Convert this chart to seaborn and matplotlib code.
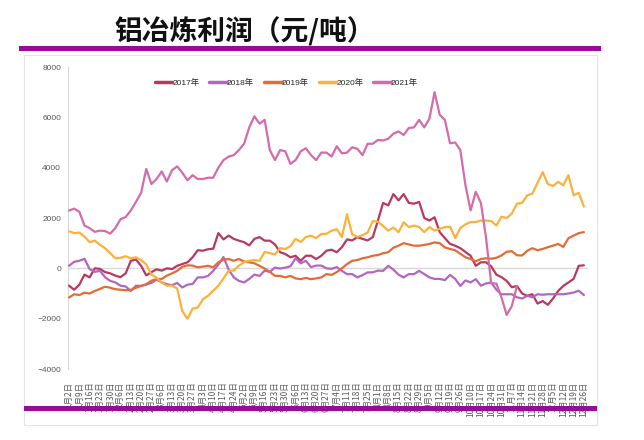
import numpy as np
import pandas as pd
import matplotlib
matplotlib.use("Agg")
import matplotlib.pyplot as plt
import seaborn as sns
from matplotlib.patches import Rectangle

# weekly date labels on the x axis
date_labels = [
    "1月2日", "1月9日", "1月16日", "1月23日", "1月30日", "2月6日", "2月13日", "2月20日",
    "2月27日", "3月6日", "3月13日", "3月20日", "3月27日", "4月3日", "4月10日", "4月17日",
    "4月24日", "5月2日", "5月9日", "5月16日", "5月23日", "5月30日", "6月6日", "6月13日",
    "6月20日", "6月27日", "7月4日", "7月11日", "7月18日", "7月25日", "8月1日", "8月8日",
    "8月15日", "8月22日", "8月29日", "9月5日", "9月12日", "9月19日", "9月26日", "10月10日",
    "10月17日", "10月24日", "10月31日", "11月7日", "11月14日", "11月21日", "11月28日",
    "12月5日", "12月12日", "12月19日", "12月26日",
]

years = ["2017年", "2018年", "2019年", "2020年", "2021年"]
colors = ["#B8385F", "#B266C2", "#E36C36", "#FCB13A", "#D36CA9"]

# profit (yuan/ton), sampled twice a week
profit_2017 = [
    -690, -850, -650, -250, -360, 0, -20, -150, -200, -290, -350, -200, 300, 350, 100, -280,
    -150, -40, -90, 0, -30, 100, 170, 240, 440, 720, 700, 760, 780, 1400, 1150, 1300, 1170,
    1100, 1040, 910, 1170, 1240, 1100, 1100, 950, 640, 570, 440, 500, 300, 500, 500, 370, 500,
    700, 740, 640, 840, 1150, 1110, 1240, 1170, 1110, 1240, 1900, 2600, 2500, 2950, 2700, 2950,
    2600, 2570, 2640, 2000, 1900, 2030, 1440, 1200, 970, 900, 800, 650, 500, 100, 240, 240, 80,
    -250, -350, -500, -750, -700, -1000, -1090, -1030, -1400, -1300, -1450, -1200, -900, -700,
    -560, -420, 100, 120,
]
profit_2018 = [
    100, 260, 300, 380, -30, -140, -100, -350, -500, -560, -690, -720, -900, -690, -700, -640,
    -580, -450, -560, -630, -670, -580, -760, -650, -620, -360, -360, -300, -100, 150, 450, -50,
    -360, -500, -560, -420, -250, -300, -90, -140, 30, -10, 30, 80, 400, 200, 300, 50, 110, 110,
    0, -20, 50, -100, -230, -230, -360, -270, -160, -160, -90, -100, 100, -50, -250, -360, -230,
    -230, -100, -230, -360, -420, -420, -470, -260, -420, -700, -480, -560, -430, -690, -600,
    -560, -850, -1030, -1030, -1030, -1150, -1200, -1090, -1150, -1030, -1050, -1030, -1030,
    -1030, -1030, -1000, -960, -890, -1060,
]
profit_2019 = [
    -1160, -1030, -1060, -970, -1000, -900, -820, -730, -770, -830, -850, -870, -860, -770, -700,
    -630, -490, -430, -420, -290, -200, -100, 60, 120, 110, 40, 70, 100, 40, 240, 340, 370, 300,
    370, 270, 240, 200, 100, -10, -140, -300, -300, -360, -300, -400, -430, -380, -430, -400,
    -360, -230, -260, -150, 0, 170, 300, 330, 400, 440, 500, 530, 600, 640, 820, 900, 1000, 950,
    900, 900, 930, 970, 1030, 1000, 830, 770, 720, 580, 440, 370, 280, 370, 400, 380, 420, 510,
    660, 680, 520, 510, 700, 800, 720, 770, 840, 900, 970, 850, 1200, 1300, 1400, 1440,
]
profit_2020 = [
    1470, 1400, 1420, 1260, 1040, 1100, 940, 800, 600, 400, 420, 480, 400, 440, 330, 150, -250,
    -370, -570, -690, -690, -800, -1700, -2000, -1600, -1560, -1230, -1090, -890, -690, -400,
    -100, -90, 110, 240, 300, 330, 300, 650, 600, 550, 800, 770, 880, 1170, 1050, 1240, 1300,
    1200, 1370, 1370, 1500, 1560, 1240, 2150, 1350, 1250, 1320, 1420, 1880, 1850, 1680, 1500,
    1620, 1440, 1830, 1640, 1700, 1640, 1440, 1640, 1500, 1570, 1640, 1650, 1200, 1600, 1750,
    1840, 1840, 1900, 1900, 1880, 1700, 2050, 2000, 2170, 2570, 2600, 2900, 2970, 3400, 3820,
    3350, 3270, 3440, 3300, 3700, 2900, 3000, 2450,
]
profit_2021 = [
    2300, 2370, 2250, 1700, 1600, 1450, 1500, 1480, 1380, 1600, 1950, 2040, 2300, 2640, 3000,
    3950, 3350, 3550, 3850, 3450, 3900, 4050, 3800, 3500, 3700, 3550, 3550, 3600, 3600, 4000,
    4300, 4440, 4500, 4700, 4950, 5600, 6040, 5750, 5900, 4700, 4300, 4700, 4650, 4150, 4300,
    4650, 4770, 4500, 4300, 4600, 4600, 4440, 4850, 4570, 4600, 4810, 4750, 4500, 4950, 4950,
    5100, 5080, 5150, 5350, 5440, 5300, 5580, 5600, 5900, 5600, 5950, 7000, 6100, 5900, 4970,
    5000, 4700, 3300, 2300, 3040, 2600, 1200, -600, -600, -1160, -1850, -1500, -700,
]

series = [profit_2017, profit_2018, profit_2019, profit_2020, profit_2021]
frames = []
for name, vals in zip(years, series):
    frames.append(pd.DataFrame({"week": np.arange(len(vals)) * 0.5, "profit": vals, "year": name}))
df = pd.concat(frames, ignore_index=True)

sns.set_style("white")
plt.rcParams['font.family'] = ['Noto Sans CJK SC', 'DejaVu Sans']

fig = plt.figure(figsize=(6.44, 4.40), dpi=100)
ax = fig.add_axes([68 / 644, 71 / 440, 520 / 644, 302 / 440])

ax.axhline(0, color="#d9d9d9", lw=1.0, zorder=1)
sns.lineplot(data=df, x="week", y="profit", hue="year", palette=colors, hue_order=years,
             estimator=None, sort=False, lw=1.6, ax=ax, zorder=3)

ax.set_ylim(-4000, 8000)
ax.set_yticks(np.arange(-4000, 8001, 2000))
ax.set_xlim(-0.1, 50.4)
ax.set_xticks(np.arange(len(date_labels)))
ax.set_xticklabels(date_labels, rotation=90, va="top", fontsize=6, color="#595959")
ax.tick_params(axis="x", length=0, pad=9)
ax.tick_params(axis="y", length=3, width=0.8, color="#bfbfbf", labelsize=6, labelcolor="#595959", pad=2)
for lab in ax.get_yticklabels():
    lab.set_family(["Liberation Sans"])
ax.set_xlabel("")
ax.set_ylabel("")
for s in ["top", "right", "bottom"]:
    ax.spines[s].set_visible(False)
ax.spines["left"].set_color("#d9d9d9")
ax.spines["left"].set_linewidth(0.8)
ax.patch.set_alpha(0)

leg = ax.legend(loc="center", bbox_to_anchor=(0.42, 0.947), ncol=5, frameon=False, fontsize=6,
                handlelength=2.1, handletextpad=0.0, columnspacing=1.2)
for line in leg.get_lines():
    line.set_linewidth(2.5)
for t in leg.get_texts():
    t.set_family(["Liberation Sans", "Noto Sans CJK SC"])

# outer frame, title and purple bars
fig.add_artist(Rectangle((24 / 644, 15 / 440), 573 / 644, 370 / 440, transform=fig.transFigure,
                         fill=False, edgecolor="#e3e3e3", lw=0.8, zorder=0))
fig.text(245 / 644, 1 - 32 / 440, "铝冶炼利润（元/吨）", ha="center", va="center",
         fontsize=20, fontweight="bold", color="#111111")
fig.add_artist(Rectangle((19 / 644, 1 - 51 / 440), 582 / 644, 5 / 440, transform=fig.transFigure,
                         facecolor="#9C0A9C", edgecolor="none", zorder=5))
fig.add_artist(Rectangle((24 / 644, 1 - 411 / 440), 573 / 644, 5 / 440, transform=fig.transFigure,
                         facecolor="#9C0A9C", edgecolor="none", zorder=5))

fig.savefig("out.png", dpi=100)
